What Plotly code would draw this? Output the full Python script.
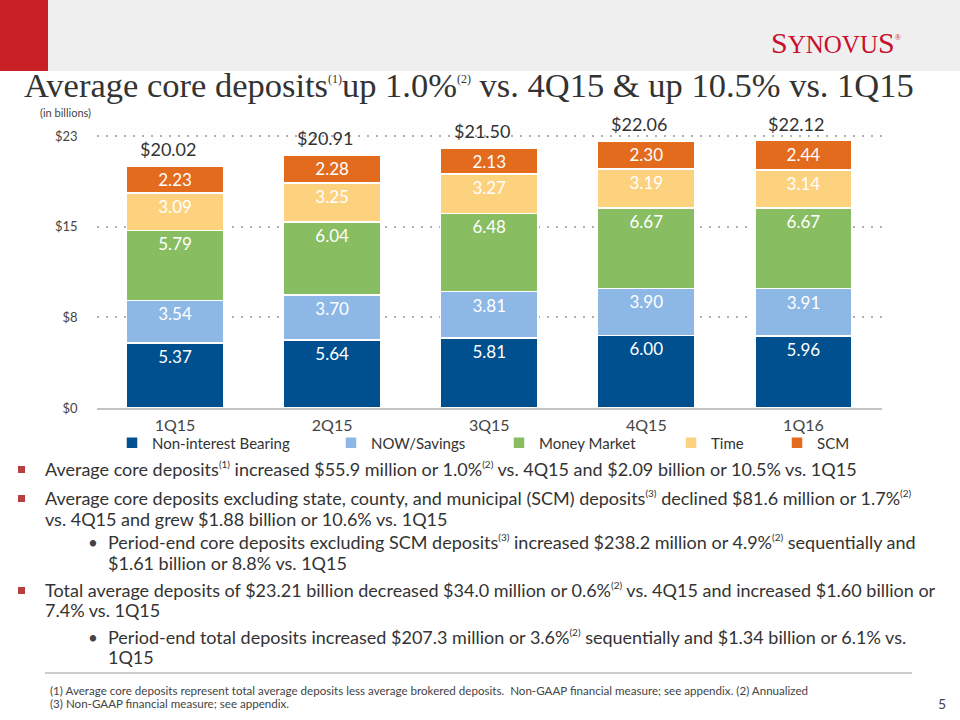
import plotly.graph_objects as go

quarters = ["1Q15", "2Q15", "3Q15", "4Q15", "1Q16"]
non_interest = [5.37, 5.64, 5.81, 6.00, 5.96]
now_savings = [3.54, 3.70, 3.81, 3.90, 3.91]
money_market = [5.79, 6.04, 6.48, 6.67, 6.67]
time_dep = [3.09, 3.25, 3.27, 3.19, 3.14]
scm = [2.23, 2.28, 2.13, 2.30, 2.44]
totals = [20.02, 20.91, 21.50, 22.06, 22.12]

series_names = ["Non-interest Bearing", "NOW/Savings", "Money Market", "Time", "SCM"]
series_vals = [non_interest, now_savings, money_market, time_dep, scm]
series_colors = ["#00508f", "#8db8e6", "#88bd62", "#fdd27f", "#e36b1e"]

y_tickvals = [0, 7.5, 15, 22.5]
y_ticktext = ["$0", "$8", "$15", "$23"]

W, H = 960, 720
def px(x): return x / W
def py(y): return (H - y) / H

SANS = "Lato, DejaVu Sans, sans-serif"
SERIF = "Liberation Serif, DejaVu Serif, serif"

def sup(t, size=10):
    return f"<sup><span style='font-size:{size}px'>{t}</span></sup>"

fig = go.Figure()
legend_x = [114, 333, 501, 673, 779]
for i, (name, vals, col) in enumerate(zip(series_names, series_vals, series_colors)):
    lg = "legend" if i == 0 else f"legend{i+1}"
    fig.add_trace(go.Bar(
        x=quarters, y=vals, name=name,
        marker=dict(color=col, line=dict(color="white", width=1.5)),
        texttemplate="%{y:.2f}", textposition="inside", insidetextanchor="end",
        textfont=dict(family=SANS, size=17, color="white"),
        constraintext="none", legend=lg, hoverinfo="skip",
    ))

for q, t in zip(quarters, totals):
    fig.add_annotation(x=q, y=t, xref="x", yref="y", text=f"${t:.2f}",
                       showarrow=False, yanchor="bottom", yshift=4, xshift=-7,
                       font=dict(family=SANS, size=18, color="#333333"))

layout_legends = {}
for i, lx in enumerate(legend_x):
    key = "legend" if i == 0 else f"legend{i+1}"
    layout_legends[key] = dict(x=px(lx - 2), y=py(443), xanchor="left", yanchor="middle",
                               orientation="h", bgcolor="rgba(0,0,0,0)",
                               font=dict(family=SANS, size=15, color="#333333"))

fig.update_layout(
    width=W, height=H, margin=dict(l=0, r=0, t=0, b=0, autoexpand=False),
    paper_bgcolor="white", plot_bgcolor="white",
    barmode="stack", bargap=0.38, showlegend=True,
    **layout_legends,
    xaxis=dict(domain=[px(96.5), px(882)], showline=True, linecolor="#c4c4c4", linewidth=2,
               tickfont=dict(family=SANS, size=16, color="#444444"), ticks="",
               ticklabelstandoff=2, automargin=False, fixedrange=True),
    yaxis=dict(domain=[py(408), py(124)], range=[0, 23.5], tickvals=y_tickvals,
               ticktext=y_ticktext, showgrid=True, gridcolor="#b0b0b0", gridwidth=1.5,
               griddash="2px,7px", zeroline=False,
               tickfont=dict(family=SANS, size=13, color="#444444"),
               ticklabelstandoff=18, automargin=False, fixedrange=True),
)

# header strip
fig.add_shape(type="rect", xref="paper", yref="paper", x0=0, x1=1, y0=py(71), y1=1,
              fillcolor="#efefef", line=dict(width=0), layer="below")
fig.add_shape(type="rect", xref="paper", yref="paper", x0=0, x1=px(48), y0=py(71), y1=1,
              fillcolor="#c91f26", line=dict(width=0), layer="below")
fig.add_annotation(xref="paper", yref="paper", x=px(769), y=py(42), xanchor="left", yanchor="middle",
                   text="S<span style='font-size:25px'>YNOVU</span>S<sup><span style='font-size:8px'>®</span></sup>",
                   showarrow=False,
                   font=dict(family=SERIF, size=30, color="#c8102e"))

fig.add_annotation(xref="paper", yref="paper", x=px(22), y=py(85), xanchor="left", yanchor="middle",
                   text="Average core deposits" + sup("(1)", 12) + "up 1.0%" + sup("(2)", 12) + " vs. 4Q15 & up 10.5% vs. 1Q15",
                   showarrow=False, font=dict(family=SERIF, size=34.5, color="#333333"))
fig.add_annotation(xref="paper", yref="paper", x=px(38), y=py(112), xanchor="left", yanchor="middle",
                   text="(in billions)", showarrow=False,
                   font=dict(family=SANS, size=11, color="#444444"))

bullet_lines = [
    (43, 469, "Average core deposits" + sup("(1)") + " increased $55.9 million or 1.0%" + sup("(2)") + " vs. 4Q15 and $2.09 billion or 10.5% vs. 1Q15"),
    (43, 498, "Average core deposits excluding state, county, and municipal (SCM) deposits" + sup("(3)") + " declined $81.6 million or 1.7%" + sup("(2)")),
    (43, 519, "vs. 4Q15 and grew $1.88 billion or 10.6% vs. 1Q15"),
    (106, 542, "Period-end core deposits excluding SCM deposits" + sup("(3)") + " increased $238.2 million or 4.9%" + sup("(2)") + " sequentially and"),
    (106, 563, "$1.61 billion or 8.8% vs. 1Q15"),
    (43, 590, "Total average deposits of $23.21 billion decreased $34.0 million or 0.6%" + sup("(2)") + " vs. 4Q15 and increased $1.60 billion or"),
    (43, 610, "7.4% vs. 1Q15"),
    (106, 637, "Period-end total deposits increased $207.3 million or 3.6%" + sup("(2)") + " sequentially and $1.34 billion or 6.1% vs."),
    (106, 657, "1Q15"),
]
for x, y, t in bullet_lines:
    fig.add_annotation(xref="paper", yref="paper", x=px(x), y=py(y), xanchor="left", yanchor="middle",
                       text=t, showarrow=False, font=dict(family=SANS, size=18, color="#333333"))

for y in [469, 498, 590]:
    fig.add_shape(type="rect", xref="paper", yref="paper", x0=px(18), x1=px(25), y0=py(y + 4), y1=py(y - 3),
                  fillcolor="#b5403f", line=dict(width=0))
for y in [542, 637]:
    fig.add_annotation(xref="paper", yref="paper", x=px(86), y=py(y), xanchor="left", yanchor="middle",
                       text="•", showarrow=False, font=dict(family=SANS, size=17, color="#444444"))

fig.add_shape(type="line", xref="paper", yref="paper", x0=px(45), x1=px(912), y0=py(673), y1=py(673),
              line=dict(color="#cccccc", width=2))
fig.add_annotation(xref="paper", yref="paper", x=px(48), y=py(690), xanchor="left", yanchor="middle",
                   text="(1) Average core deposits represent total average deposits less average brokered deposits.  Non-GAAP financial measure; see appendix. (2) Annualized",
                   showarrow=False, font=dict(family=SANS, size=11.6, color="#444444"))
fig.add_annotation(xref="paper", yref="paper", x=px(48), y=py(703), xanchor="left", yanchor="middle",
                   text="(3) Non-GAAP financial measure; see appendix.",
                   showarrow=False, font=dict(family=SANS, size=11.6, color="#444444"))
fig.add_annotation(xref="paper", yref="paper", x=px(948), y=py(703), xanchor="right", yanchor="middle",
                   text="5", showarrow=False, font=dict(family=SANS, size=14, color="#444444"))

fig.write_html("out.html", config={"displayModeBar": False},
               post_script="document.body.style.margin='0';document.body.style.padding='0';")
